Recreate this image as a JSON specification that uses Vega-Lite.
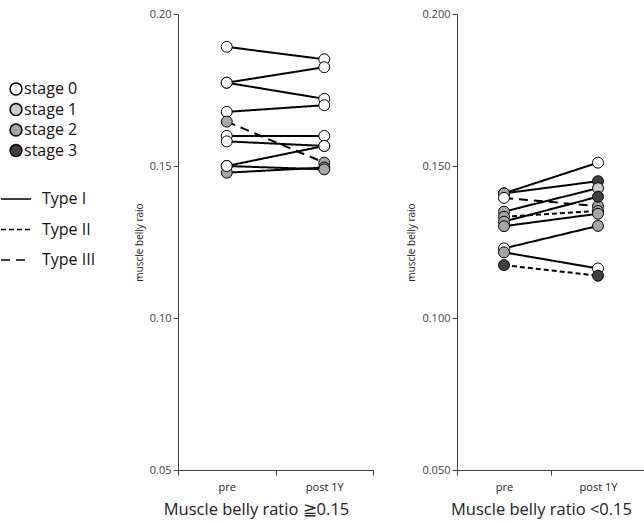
{
  "$schema": "https://vega.github.io/schema/vega-lite/v6.json",
  "padding": {"left": 0, "top": 8, "right": 0, "bottom": 6},
  "background": "white",
  "config": {
    "view": {"stroke": null},
    "font": "Open Sans",
    "axis": {"grid": false, "domainColor": "#404040", "tickColor": "#404040", "labelColor": "#404040", "labelFontSize": 11, "titleFontWeight": "normal", "titleColor": "#222222"},
    "legend": {"labelFontSize": 16, "labelColor": "#111111", "labelFont": "Open Sans"}
  },
  "datasets": {
    "hi": [
      {"pair": 1, "time": "pre", "ratio": 0.1892, "stage": "stage 0", "type": "Type I"},
      {"pair": 1, "time": "post 1Y", "ratio": 0.1851, "stage": "stage 0", "type": "Type I"},
      {"pair": 2, "time": "pre", "ratio": 0.1774, "stage": "stage 0", "type": "Type I"},
      {"pair": 2, "time": "post 1Y", "ratio": 0.1825, "stage": "stage 0", "type": "Type I"},
      {"pair": 3, "time": "pre", "ratio": 0.1774, "stage": "stage 0", "type": "Type I"},
      {"pair": 3, "time": "post 1Y", "ratio": 0.1721, "stage": "stage 0", "type": "Type I"},
      {"pair": 4, "time": "pre", "ratio": 0.1678, "stage": "stage 0", "type": "Type I"},
      {"pair": 4, "time": "post 1Y", "ratio": 0.1700, "stage": "stage 0", "type": "Type I"},
      {"pair": 5, "time": "pre", "ratio": 0.1646, "stage": "stage 2", "type": "Type III"},
      {"pair": 5, "time": "post 1Y", "ratio": 0.1511, "stage": "stage 2", "type": "Type III"},
      {"pair": 6, "time": "pre", "ratio": 0.1599, "stage": "stage 0", "type": "Type I"},
      {"pair": 6, "time": "post 1Y", "ratio": 0.1599, "stage": "stage 0", "type": "Type I"},
      {"pair": 7, "time": "pre", "ratio": 0.1581, "stage": "stage 0", "type": "Type I"},
      {"pair": 7, "time": "post 1Y", "ratio": 0.1566, "stage": "stage 0", "type": "Type I"},
      {"pair": 8, "time": "pre", "ratio": 0.1500, "stage": "stage 0", "type": "Type I"},
      {"pair": 8, "time": "post 1Y", "ratio": 0.1566, "stage": "stage 0", "type": "Type I"},
      {"pair": 9, "time": "pre", "ratio": 0.1478, "stage": "stage 2", "type": "Type I"},
      {"pair": 9, "time": "post 1Y", "ratio": 0.1495, "stage": "stage 2", "type": "Type I"},
      {"pair": 10, "time": "pre", "ratio": 0.1500, "stage": "stage 0", "type": "Type I"},
      {"pair": 10, "time": "post 1Y", "ratio": 0.1489, "stage": "stage 2", "type": "Type I"}
    ],
    "lo": [
      {"pair": 1, "time": "pre", "ratio": 0.1410, "stage": "stage 2", "type": "Type I"},
      {"pair": 1, "time": "post 1Y", "ratio": 0.1511, "stage": "stage 0", "type": "Type I"},
      {"pair": 2, "time": "pre", "ratio": 0.1410, "stage": "stage 2", "type": "Type I"},
      {"pair": 2, "time": "post 1Y", "ratio": 0.1450, "stage": "stage 3", "type": "Type I"},
      {"pair": 3, "time": "pre", "ratio": 0.1395, "stage": "stage 0", "type": "Type III"},
      {"pair": 3, "time": "post 1Y", "ratio": 0.1368, "stage": "stage 2", "type": "Type III"},
      {"pair": 4, "time": "pre", "ratio": 0.1350, "stage": "stage 2", "type": "Type I"},
      {"pair": 4, "time": "post 1Y", "ratio": 0.1427, "stage": "stage 1", "type": "Type I"},
      {"pair": 5, "time": "pre", "ratio": 0.1333, "stage": "stage 2", "type": "Type II"},
      {"pair": 5, "time": "post 1Y", "ratio": 0.1352, "stage": "stage 2", "type": "Type II"},
      {"pair": 6, "time": "pre", "ratio": 0.1317, "stage": "stage 2", "type": "Type I"},
      {"pair": 6, "time": "post 1Y", "ratio": 0.1399, "stage": "stage 3", "type": "Type I"},
      {"pair": 7, "time": "pre", "ratio": 0.1302, "stage": "stage 2", "type": "Type I"},
      {"pair": 7, "time": "post 1Y", "ratio": 0.1343, "stage": "stage 2", "type": "Type I"},
      {"pair": 8, "time": "pre", "ratio": 0.1229, "stage": "stage 0", "type": "Type I"},
      {"pair": 8, "time": "post 1Y", "ratio": 0.1303, "stage": "stage 2", "type": "Type I"},
      {"pair": 9, "time": "pre", "ratio": 0.1216, "stage": "stage 2", "type": "Type I"},
      {"pair": 9, "time": "post 1Y", "ratio": 0.1163, "stage": "stage 0", "type": "Type I"},
      {"pair": 10, "time": "pre", "ratio": 0.1174, "stage": "stage 3", "type": "Type II"},
      {"pair": 10, "time": "post 1Y", "ratio": 0.1139, "stage": "stage 3", "type": "Type II"}
    ]
  },
  "hconcat": [
    {
      "width": 195,
      "height": 456,
      "data": {"name": "hi"},
      "encoding": {
        "x": {"field": "time", "type": "nominal", "sort": ["pre", "post 1Y"], "scale": {"paddingInner": 0, "paddingOuter": 0},
          "axis": {"title": "Muscle belly ratio ≧0.15", "labelAngle": 0, "tickBand": "extent", "titleFontSize": 16.5, "titlePadding": 9, "labelPadding": 6, "labelColor": "#222222", "titleX": 78, "titleAlign": "center"}},
        "y": {"field": "ratio", "type": "quantitative", "scale": {"domain": [0.05, 0.2], "nice": false, "zero": false},
          "axis": {"values": [0.05, 0.1, 0.15, 0.2], "format": ".2f", "title": "muscle belly raio", "titleFontSize": 10, "titlePadding": 5}}
      },
      "layer": [
        {"mark": {"type": "line", "color": "black", "strokeWidth": 2}, "encoding": {"detail": {"field": "pair"},
          "strokeDash": {"field": "type", "type": "nominal",
            "scale": {"domain": ["Type I", "Type II", "Type III"], "range": [[1, 0], [5, 3], [9, 6]]},
            "legend": {"orient": "none", "legendX": -178, "legendY": 169, "title": null, "symbolType": "stroke", "symbolSize": 900, "symbolStrokeWidth": 1.5, "symbolStrokeColor": "black", "labelOffset": 10, "rowPadding": 6.5}}}},
        {"mark": {"type": "point", "filled": true, "stroke": "black", "strokeWidth": 1, "size": 120, "opacity": 1}, "encoding": {
          "fill": {"field": "stage", "type": "nominal",
            "scale": {"domain": ["stage 0", "stage 1", "stage 2", "stage 3"], "range": ["#ffffff", "#cccccc", "#a6a6a6", "#404040"]},
            "legend": {"orient": "none", "legendX": -170, "legendY": 67, "title": null, "symbolSize": 140, "labelOffset": 0, "rowPadding": 2.5,
              "encode": {"symbols": {"update": {
                "stroke": {"signal": "datum.value === 'stage 0' ? 'black' : 'transparent'"},
                "fill": {"signal": "datum.value === 'stage 0' ? 'white' : datum.value === 'stage 1' ? '#e6e6e6' : datum.value === 'stage 2' ? '#808080' : 'black'"}
              }}}}}}}
      ]
    },
    {
      "width": 188,
      "height": 456,
      "data": {"name": "lo"},
      "encoding": {
        "x": {"field": "time", "type": "nominal", "sort": ["pre", "post 1Y"], "scale": {"paddingInner": 0, "paddingOuter": 0},
          "axis": {"title": "Muscle belly ratio <0.15", "labelAngle": 0, "tickBand": "extent", "titleFontSize": 16.5, "titlePadding": 9, "labelPadding": 6, "labelColor": "#222222", "titleX": 84, "titleAlign": "center"}},
        "y": {"field": "ratio", "type": "quantitative", "scale": {"domain": [0.05, 0.2], "nice": false, "zero": false},
          "axis": {"values": [0.05, 0.1, 0.15, 0.2], "format": ".3f", "title": "muscle belly raio", "titleFontSize": 10, "titlePadding": 5}}
      },
      "layer": [
        {"mark": {"type": "line", "color": "black", "strokeWidth": 2}, "encoding": {"detail": {"field": "pair"},
          "strokeDash": {"field": "type", "type": "nominal",
            "scale": {"domain": ["Type I", "Type II", "Type III"], "range": [[1, 0], [5, 3], [9, 6]]},
            "legend": {"orient": "none", "legendX": -178, "legendY": 169, "title": null, "symbolType": "stroke", "symbolSize": 900, "symbolStrokeWidth": 1.5, "symbolStrokeColor": "black", "labelOffset": 10, "rowPadding": 6.5}}}},
        {"mark": {"type": "point", "filled": true, "stroke": "black", "strokeWidth": 1, "size": 120, "opacity": 1}, "encoding": {
          "fill": {"field": "stage", "type": "nominal",
            "scale": {"domain": ["stage 0", "stage 1", "stage 2", "stage 3"], "range": ["#ffffff", "#cccccc", "#a6a6a6", "#404040"]},
            "legend": {"orient": "none", "legendX": -170, "legendY": 67, "title": null, "symbolSize": 140, "labelOffset": 0, "rowPadding": 2.5,
              "encode": {"symbols": {"update": {
                "stroke": {"signal": "datum.value === 'stage 0' ? 'black' : 'transparent'"},
                "fill": {"signal": "datum.value === 'stage 0' ? 'white' : datum.value === 'stage 1' ? '#e6e6e6' : datum.value === 'stage 2' ? '#808080' : 'black'"}
              }}}}}}}
      ]
    }
  ],
  "spacing": 32,
  "resolve": {"scale": {"y": "independent", "fill": "shared", "strokeDash": "shared"}}
}
